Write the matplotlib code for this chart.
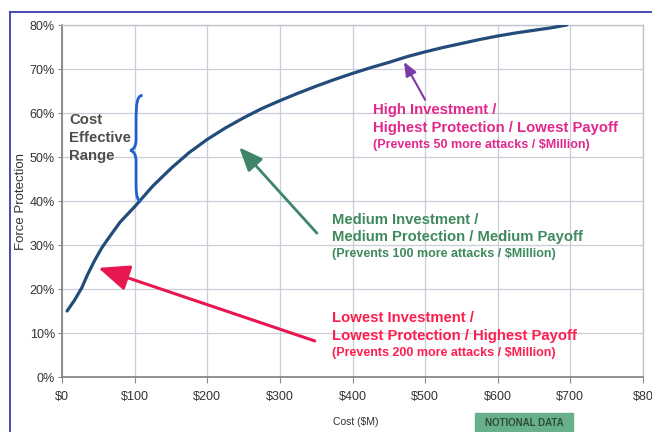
import matplotlib
matplotlib.use("Agg")
import matplotlib.pyplot as plt
from matplotlib.patches import PathPatch, Rectangle
from matplotlib.path import Path
from matplotlib.lines import Line2D

# data
cost = [7, 17, 27, 35, 45, 55, 66, 80, 100, 125, 150, 175, 200, 225, 250, 275, 300,
        325, 350, 375, 400, 425, 450, 475, 500, 525, 550, 575, 600, 625, 650, 675, 695]
protection = [15, 17.4, 20.2, 23.2, 26.5, 29.4, 32, 35.2, 38.7, 43.4, 47.4, 51, 54, 56.6,
              58.9, 61, 62.8, 64.5, 66.1, 67.6, 69, 70.3, 71.5, 72.8, 73.9, 74.9,
              75.8, 76.7, 77.5, 78.2, 78.8, 79.4, 80]

x_ticks = [0, 100, 200, 300, 400, 500, 600, 700, 800]
x_labels = ["$0", "$100", "$200", "$300", "$400", "$500", "$600", "$700", "$80"]
y_ticks = [0, 10, 20, 30, 40, 50, 60, 70, 80]
y_labels = [f"{v}%" for v in y_ticks]

high_lines = ["High Investment /", "Highest Protection / Lowest Payoff",
              "(Prevents 50 more attacks / $Million)"]
med_lines = ["Medium Investment /", "Medium Protection / Medium Payoff",
             "(Prevents 100 more attacks / $Million)"]
low_lines = ["Lowest Investment /", "Lowest Protection / Highest Payoff",
             "(Prevents 200 more attacks / $Million)"]
range_lines = ["Cost", "Effective", "Range"]

W, H = 652, 432
sans = ["Liberation Sans", "DejaVu Sans"]

fig = plt.figure(figsize=(W / 100, H / 100), dpi=100)
ax = fig.add_axes([62 / W, 1 - 377 / H, (643 - 62) / W, (377 - 25) / H])

ax.plot(cost, protection, color="#234c7b", lw=2.3, solid_capstyle="round",
        solid_joinstyle="round", zorder=4)

ax.set_xlim(0, 800)
ax.set_ylim(0, 80)
ax.set_xticks(x_ticks)
ax.set_xticklabels(x_labels, family=sans, fontsize=9, color="#333333")
ax.set_yticks(y_ticks)
ax.set_yticklabels(y_labels, family=sans, fontsize=9, color="#333333")
ax.tick_params(axis="y", length=3, color="#8a8a8a", width=0.8, pad=2)
ax.tick_params(axis="x", length=4, color="#8a8a8a", width=0.8, pad=6)
ax.grid(True, color="#c9ced8", lw=0.9)
ax.set_axisbelow(True)
for s in ["left", "bottom"]:
    ax.spines[s].set_color("#7f7f7f")
    ax.spines[s].set_linewidth(1.2)
for s in ["top", "right"]:
    ax.spines[s].set_color("#c0c4cc")
    ax.spines[s].set_linewidth(1.0)

# arrows
ax.annotate("", xy=(50, 24.8), xytext=(348, 8.2),
            arrowprops=dict(arrowstyle="-|>,head_length=0.95,head_width=0.4",
                            mutation_scale=20, lw=2.2, color="#e8174f",
                            shrinkA=0, shrinkB=0), zorder=5)
ax.annotate("", xy=(244, 52.2), xytext=(351, 32.7),
            arrowprops=dict(arrowstyle="-|>,head_length=0.8,head_width=0.33",
                            mutation_scale=18, lw=2.0, color="#3f8466",
                            shrinkA=0, shrinkB=0), zorder=5)
ax.annotate("", xy=(471, 71.6), xytext=(500, 63),
            arrowprops=dict(arrowstyle="-|>,head_length=0.6,head_width=0.25",
                            mutation_scale=14, lw=1.5, color="#7a3aa8",
                            shrinkA=0, shrinkB=0), zorder=5)

def block(lines, x, ys, color, sizes):
    for txt, y, fs in zip(lines, ys, sizes):
        ax.text(x, y, txt, color=color, fontsize=fs, fontweight="bold",
                family=sans, va="center", ha="left", clip_on=False, zorder=6)

block(high_lines, 428, [60.7, 56.6, 52.7], "#e3288c", [10.7, 10.7, 9])
block(med_lines, 372, [35.7, 31.8, 28.0], "#3f8a5c", [10.7, 10.7, 9])
block(low_lines, 372, [13.4, 9.3, 5.5], "#ff1f4f", [10.7, 10.7, 9])
block(range_lines, 10, [58.4, 54.3, 50.2], "#4d4d4d", [10.7, 10.7, 10.7])

# brace for cost effective range
brace = Path(
    [(111, 64), (103, 64), (102, 62), (102, 58),
     (102, 54),
     (102, 52.5), (99, 51.7), (94, 51.5),
     (99, 51.3), (102, 50.5), (102, 49),
     (102, 44),
     (102, 41), (104, 40), (109, 40)],
    [Path.MOVETO, Path.CURVE4, Path.CURVE4, Path.CURVE4,
     Path.LINETO,
     Path.CURVE4, Path.CURVE4, Path.CURVE4,
     Path.CURVE4, Path.CURVE4, Path.CURVE4,
     Path.LINETO,
     Path.CURVE4, Path.CURVE4, Path.CURVE4])
ax.add_patch(PathPatch(brace, fill=False, edgecolor="#1f5fd0", lw=2.0, zorder=5))

# axis titles
fig.text(21 / W, 1 - 201 / H, "Force Protection", rotation=90, ha="center",
         va="center", fontsize=9.5, family=sans, color="#333333")
fig.text(333 / W, 1 - 422 / H, "Cost ($M)", ha="left", va="center",
         fontsize=7.5, family=sans, color="#333333")

# notional data tag
fig.patches.append(Rectangle((475 / W, 1 - 433 / H), 98 / W, 20 / H,
                             transform=fig.transFigure, color="#67b08a"))
fig.text(524 / W, 1 - 423 / H, "NOTIONAL DATA", ha="center", va="center",
         fontsize=7, fontweight="bold", family=sans, color="#2e4d3c")

# blue page frame
fig.lines.append(Line2D([10 / W, 1], [1 - 12 / H, 1 - 12 / H],
                        transform=fig.transFigure, color="#3b3bb0", lw=1.3))
fig.lines.append(Line2D([10 / W, 10 / W], [0, 1 - 12 / H],
                        transform=fig.transFigure, color="#3b3bb0", lw=1.3))

fig.savefig("out.png", dpi=100)
